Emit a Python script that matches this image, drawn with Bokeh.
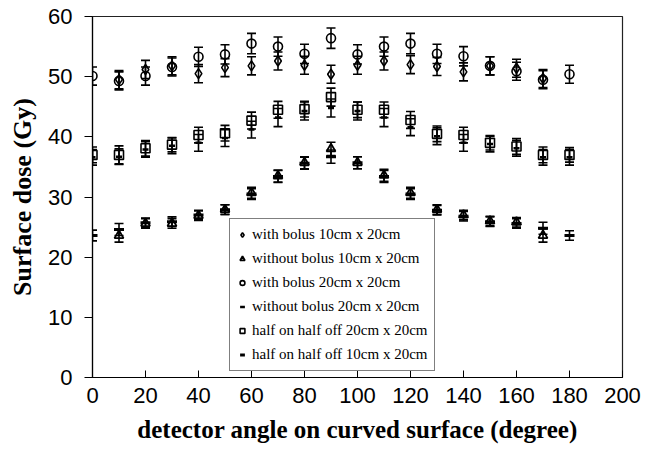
from bokeh.plotting import figure
from bokeh.models import (ColumnDataSource, Whisker, TeeHead, FixedTicker,
                          Range1d, Legend, LegendItem)
from bokeh.embed import file_html
from bokeh.resources import INLINE

# ---------------- data ----------------
angles_full = [0, 10, 20, 30, 40, 50, 60, 70, 80, 90, 100, 110, 120, 130, 140, 150, 160, 170, 180]
angles_10x20 = [10, 20, 30, 40, 50, 60, 70, 80, 90, 100, 110, 120, 130, 140, 150, 160, 170]

with_bolus_10x20 = [49.5, 51.2, 51.8, 50.5, 51.5, 51.8, 52.6, 51.9, 50.4, 51.9, 52.6, 52.0, 51.7, 50.8, 51.8, 51.4, 49.7]
with_bolus_10x20_err = [1.5, 1.5, 1.5, 1.5, 1.5, 1.5, 1.5, 1.5, 1.5, 1.5, 1.5, 1.5, 1.5, 1.5, 1.5, 1.5, 1.5]

without_bolus_10x20 = [23.6, 25.6, 25.6, 26.9, 27.9, 30.7, 33.5, 35.7, 38.0, 35.7, 33.6, 30.7, 27.9, 27.0, 26.0, 25.8, 23.6]
without_bolus_10x20_err = [1.1, 0.8, 0.8, 0.8, 0.8, 0.9, 1.0, 1.0, 1.1, 1.0, 1.0, 0.9, 0.8, 0.8, 0.8, 0.8, 1.1]

with_bolus_20x20 = [50.1, 49.3, 50.1, 51.6, 53.3, 53.7, 55.5, 55.0, 53.8, 56.4, 53.7, 55.0, 55.5, 53.8, 53.4, 51.8, 50.9, 49.5, 50.4]
with_bolus_20x20_err = [1.5, 1.5, 1.5, 1.5, 1.6, 1.6, 1.7, 1.6, 1.6, 1.7, 1.6, 1.6, 1.7, 1.6, 1.6, 1.5, 1.5, 1.5, 1.5]

without_bolus_20x20 = [36.6, 36.7, 37.9, 38.5, 39.0, 39.8, 41.2, 43.2, 44.3, 44.8, 44.3, 43.2, 41.6, 40.1, 39.0, 38.8, 38.1, 36.6, 36.6]
without_bolus_20x20_err = [1.3, 1.3, 1.3, 1.3, 1.4, 1.4, 1.4, 1.5, 1.5, 1.5, 1.5, 1.5, 1.4, 1.4, 1.4, 1.3, 1.3, 1.3, 1.3]

half_on_off_20x20 = [37.0, 37.0, 38.1, 38.7, 40.3, 40.6, 42.7, 44.5, 44.6, 46.6, 44.5, 44.5, 42.8, 40.5, 40.3, 39.0, 38.4, 37.0, 37.0]
half_on_off_20x20_err = [1.3, 1.5, 1.3, 1.2, 1.3, 1.3, 1.4, 1.4, 1.3, 1.5, 1.3, 1.3, 1.4, 1.3, 1.3, 1.2, 1.3, 1.3, 1.2]

half_on_off_10x20 = [23.6, 24.6, 25.7, 25.9, 27.0, 27.9, 30.5, 33.4, 35.6, 36.7, 35.7, 33.4, 30.5, 27.8, 26.8, 25.9, 25.6, 24.8, 23.6]
half_on_off_10x20_err = [0.9, 1.0, 0.8, 0.8, 0.8, 0.8, 0.9, 1.0, 1.0, 1.1, 1.0, 1.0, 0.9, 0.8, 0.8, 0.8, 0.8, 1.0, 0.8]

x_ticks = [0, 20, 40, 60, 80, 100, 120, 140, 160, 180, 200]
y_ticks = [0, 10, 20, 30, 40, 50, 60]

x_label = "detector angle on curved surface (degree)"
y_label = "Surface dose (Gy)"

# ---------------- figure ----------------
p = figure(width=641, height=445, output_backend="svg", toolbar_location=None,
           x_range=Range1d(0, 200), y_range=Range1d(0, 60),
           min_border_left=92, min_border_right=19, min_border_top=16, min_border_bottom=66)
p.background_fill_color = "white"
p.border_fill_color = "white"
p.outline_line_color = "#222222"
p.outline_line_width = 1.2
p.xgrid.visible = False
p.ygrid.visible = False

p.xaxis.ticker = FixedTicker(ticks=x_ticks)
p.yaxis.ticker = FixedTicker(ticks=y_ticks)
for ax in (p.xaxis[0], p.yaxis[0]):
    ax.major_label_text_font = "Liberation Sans"
    ax.major_label_text_font_size = "22px"
    ax.major_label_text_color = "black"
    ax.axis_label_text_font = "Liberation Serif"
    ax.axis_label_text_font_style = "bold"
    ax.axis_label_text_color = "black"
    ax.axis_line_color = "black"
    ax.axis_line_width = 1.2
    ax.major_tick_line_color = "black"
    ax.minor_tick_line_color = None

p.xaxis.axis_label = x_label
p.yaxis.axis_label = y_label
p.xaxis.axis_label_text_font_size = "25px"
p.yaxis.axis_label_text_font_size = "26px"
p.xaxis.major_tick_in = 7
p.xaxis.major_tick_out = 0
p.yaxis.major_tick_in = 0
p.yaxis.major_tick_out = 8
p.xaxis.major_label_standoff = 10
p.yaxis.major_label_standoff = 12
p.xaxis.axis_label_standoff = 10
p.yaxis.axis_label_standoff = 8


def add_series(xs, ys, errs, marker, size, lw, label_list):
    src = ColumnDataSource(dict(x=xs, y=ys,
                                upper=[a + b for a, b in zip(ys, errs)],
                                lower=[a - b for a, b in zip(ys, errs)]))
    w = Whisker(base="x", upper="upper", lower="lower", source=src,
                line_color="black", line_width=1.6,
                upper_head=TeeHead(size=9, line_color="black", line_width=1.6),
                lower_head=TeeHead(size=9, line_color="black", line_width=1.6))
    p.add_layout(w)
    r = p.scatter("x", "y", source=src, marker=marker, size=size,
                  line_color="black", line_width=lw, fill_color=None)
    label_list.append(r)
    return r


rs = []
add_series(angles_10x20, with_bolus_10x20, with_bolus_10x20_err, "diamond", 10, 1.6, rs)
add_series(angles_10x20, without_bolus_10x20, without_bolus_10x20_err, "triangle", 9, 1.8, rs)
add_series(angles_full, with_bolus_20x20, with_bolus_20x20_err, "circle", 9, 1.6, rs)
add_series(angles_full, without_bolus_20x20, without_bolus_20x20_err, "dash", 6, 2.5, rs)
add_series(angles_full, half_on_off_20x20, half_on_off_20x20_err, "square", 9, 1.6, rs)
add_series(angles_full, half_on_off_10x20, half_on_off_10x20_err, "dash", 10, 3.0, rs)

labels = ["with bolus 10cm x 20cm",
          "without bolus 10cm x 20cm",
          "with bolus 20cm x 20cm",
          "without bolus 20cm x 20cm",
          "half on half off 20cm x 20cm",
          "half on half off 10cm x 20cm"]

legend = Legend(items=[LegendItem(label=l, renderers=[r]) for l, r in zip(labels, rs)],
                location=(137, 6))
legend.label_text_font = "Liberation Serif"
legend.label_text_font_size = "15px"
legend.label_text_color = "black"
legend.label_height = 19
legend.glyph_height = 19
legend.glyph_width = 12
legend.label_standoff = 4
legend.spacing = 5
legend.padding = 6
legend.margin = 0
legend.border_line_color = "black"
legend.border_line_width = 1.2
legend.background_fill_color = "white"
legend.background_fill_alpha = 1.0
p.add_layout(legend, "center")

open("out.html", "w").write(file_html(p, INLINE))
